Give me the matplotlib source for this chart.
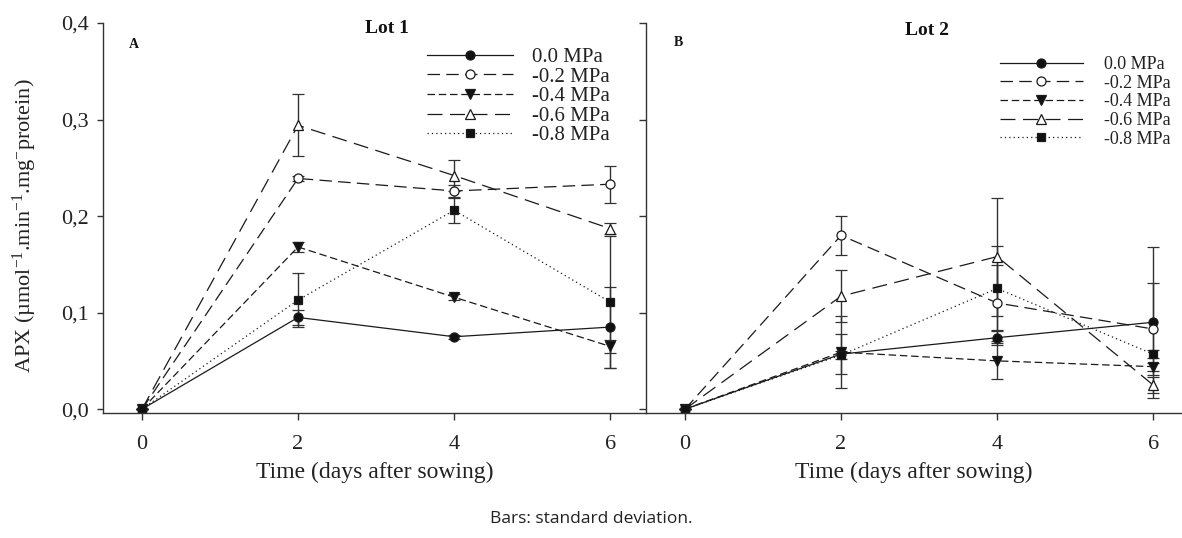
import matplotlib
matplotlib.use("Agg")
import matplotlib.pyplot as plt
from matplotlib.ticker import FixedLocator, FuncFormatter

plt.rcParams['font.family'] = ['Liberation Serif', 'DejaVu Serif']
plt.rcParams['mathtext.fontset'] = 'custom'
plt.rcParams['mathtext.rm'] = 'Liberation Serif'
plt.rcParams['mathtext.it'] = 'Liberation Serif:italic'
plt.rcParams['mathtext.bf'] = 'Liberation Serif:bold'

days = [0, 2, 4, 6]
labels = ['0.0 MPa', '-0.2 MPa', '-0.4 MPa', '-0.6 MPa', '-0.8 MPa']

lot1_00 = [0.0, 0.095, 0.075, 0.085]
lot1_02 = [0.0, 0.239, 0.226, 0.233]
lot1_04 = [0.0, 0.168, 0.116, 0.065]
lot1_06 = [0.0, 0.294, 0.242, 0.187]
lot1_08 = [0.0, 0.113, 0.206, 0.111]
lot1_sd_00 = [0.0, 0.008, 0.002, 0.042]
lot1_sd_02 = [0.0, 0.003, 0.006, 0.019]
lot1_sd_04 = [0.0, 0.005, 0.003, 0.007]
lot1_sd_06 = [0.0, 0.032, 0.016, 0.006]
lot1_sd_08 = [0.0, 0.028, 0.013, 0.068]

lot2_00 = [0.0, 0.057, 0.074, 0.090]
lot2_02 = [0.0, 0.180, 0.110, 0.083]
lot2_04 = [0.0, 0.059, 0.050, 0.044]
lot2_06 = [0.0, 0.117, 0.158, 0.025]
lot2_08 = [0.0, 0.056, 0.125, 0.057]
lot2_sd_00 = [0.0, 0.021, 0.008, 0.078]
lot2_sd_02 = [0.0, 0.020, 0.039, 0.048]
lot2_sd_04 = [0.0, 0.037, 0.019, 0.004]
lot2_sd_06 = [0.0, 0.027, 0.061, 0.008]
lot2_sd_08 = [0.0, 0.004, 0.044, 0.004]

yticks = [0.0, 0.1, 0.2, 0.3, 0.4]
xticks = [0, 2, 4, 6]

styles = [
    dict(marker='o', mfc='#111111', dashes=None, ms=6.5),
    dict(marker='o', mfc='white', dashes=(10, 5), ms=6.5),
    dict(marker='v', mfc='#111111', dashes=(6, 3), ms=6.5),
    dict(marker='^', mfc='white', dashes=(12, 6), ms=6.5),
    dict(marker='s', mfc='#111111', dashes=(1, 2.5), ms=5.5),
]

col = '#1a1a1a'
fig = plt.figure(figsize=(11.82, 5.38), dpi=100)
ax1 = fig.add_axes([103/1182, 1-413/538, 543/1182, 390/538])
ax2 = fig.add_axes([646/1182, 1-413/538, 536/1182, 390/538])
ax1.patch.set_visible(False)
ax2.patch.set_visible(False)

def draw(ax, means, sds):
    handles = []
    for m, s, st, lab in zip(means, sds, styles, labels):
        eb = ax.errorbar(days, m, yerr=s, color=col, lw=0.9, marker=st['marker'],
                         mfc=st['mfc'], mec=col, mew=0.9, ms=st['ms'],
                         ecolor='#333333', elinewidth=1.0, capsize=4, capthick=1.0,
                         label=lab)
        line = eb.lines[0]
        if st['dashes'] is not None:
            line.set_dashes(st['dashes'])
        handles.append(line)
    return handles

h1 = draw(ax1, [lot1_00, lot1_02, lot1_04, lot1_06, lot1_08],
          [lot1_sd_00, lot1_sd_02, lot1_sd_04, lot1_sd_06, lot1_sd_08])
h2 = draw(ax2, [lot2_00, lot2_02, lot2_04, lot2_06, lot2_08],
          [lot2_sd_00, lot2_sd_02, lot2_sd_04, lot2_sd_06, lot2_sd_08])

fmt = FuncFormatter(lambda v, p: f"{v:.1f}".replace('.', ','))
for ax in (ax1, ax2):
    ax.set_ylim(-0.004, 0.4)
    ax.xaxis.set_major_locator(FixedLocator(xticks))
    ax.yaxis.set_major_locator(FixedLocator(yticks))
    ax.spines['top'].set_visible(False)
    for sp in ax.spines.values():
        sp.set_color('#333333')
        sp.set_linewidth(1.0)
    ax.tick_params(axis='x', direction='out', length=5, width=1.0, colors='#333333',
                   labelcolor='#222222', labelsize=16, pad=11)
    ax.set_xlabel('Time (days after sowing)', fontsize=17, color='#222222', labelpad=5.5)

ax1.set_xlim(-0.5, 6.46)
ax2.set_xlim(-0.5, 6.37)

ax1.yaxis.set_major_formatter(fmt)
ax1.tick_params(axis='y', which='both', direction='out', length=4, width=1.0,
                colors='#333333', labelcolor='#222222', labelsize=16, pad=6)
ax1.tick_params(axis='y', right=True, labelright=False)
for t in ax1.yaxis.get_major_ticks():
    t.tick2line.set_markersize(5)
    t.tick2line.set_marker(matplotlib.lines.TICKLEFT)
ax1.set_ylabel('APX (µmol$^{-1}$.min$^{-1}$.mg$^{-}$protein)', fontsize=16,
               color='#222222', labelpad=16)
ax1.yaxis.label.set_y(0.48)

ax2.spines['left'].set_visible(False)
ax2.spines['right'].set_visible(False)
ax2.tick_params(axis='y', left=False, labelleft=False)

ax1.text(0.523, 0.985, 'Lot 1', transform=ax1.transAxes, ha='center', va='center',
         fontsize=14, fontweight='bold', color='#111111')
ax2.text(0.524, 0.98, 'Lot 2', transform=ax2.transAxes, ha='center', va='center',
         fontsize=14, fontweight='bold', color='#111111')
ax1.text(0.057, 0.944, 'A', transform=ax1.transAxes, ha='center', va='center',
         fontsize=10, fontweight='bold', color='#111111')
ax2.text(0.06, 0.951, 'B', transform=ax2.transAxes, ha='center', va='center',
         fontsize=10, fontweight='bold', color='#111111')

ax1.legend(h1, labels, loc='upper left', bbox_to_anchor=(0.597, 0.937), frameon=False,
           fontsize=15, handlelength=4.1, handletextpad=0.95, labelspacing=0.0,
           borderpad=0, borderaxespad=0, labelcolor='#222222')
ax2.legend(h2, labels, loc='upper left', bbox_to_anchor=(0.660, 0.915), frameon=False,
           fontsize=13, handlelength=4.6, handletextpad=1.15, labelspacing=0.09,
           borderpad=0, borderaxespad=0, labelcolor='#222222')

fig.text(0.5, 1-519/538, 'Bars: standard deviation.', ha='center', va='center',
         fontsize=12.5, family='Open Sans', color='#222222')

fig.savefig('out.png', dpi=100)
